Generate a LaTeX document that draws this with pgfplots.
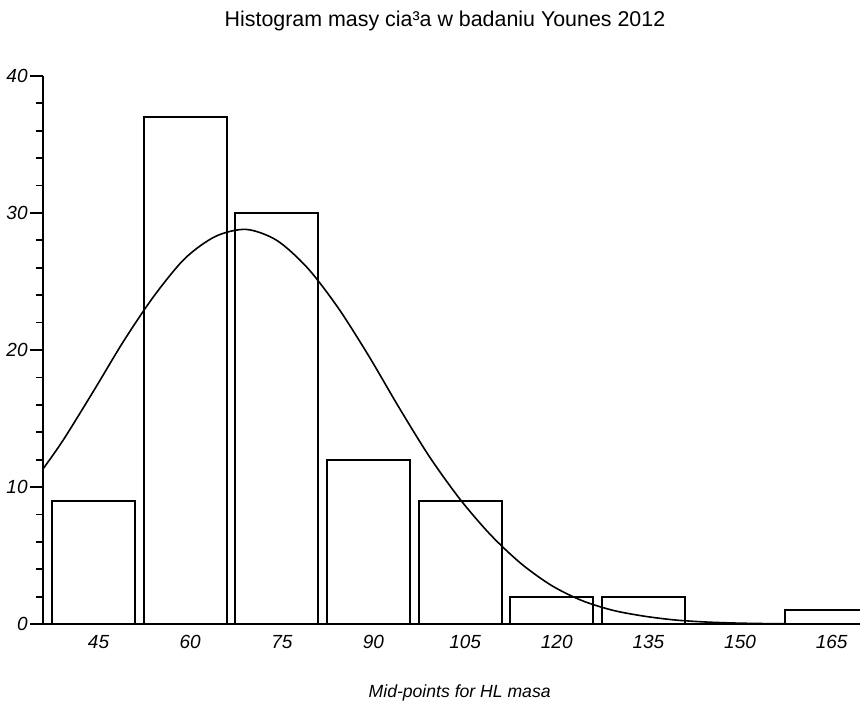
\documentclass[border=0pt]{standalone}
\usepackage{fontspec}
\setmainfont{Liberation Sans}
\usepackage{pgfplots}
\pgfplotsset{compat=1.18}
\begin{document}
\begin{tikzpicture}
\path[use as bounding box] (-21.5pt,-38.5pt) rectangle (408.5pt,312pt);
\begin{axis}[
  at={(0,0)}, anchor=south west,
  width=408.5pt, height=274pt, scale only axis,
  xmin=36.73, xmax=170.45, ymin=0, ymax=40,
  axis x line=bottom, axis y line=left,
  axis line style={-, line width=1pt},
  xtick={45,60,75,90,105,120,135,150,165},
  xtick style={draw=none},
  ytick={0,10,20,30,40}, minor y tick num=4,
  tick align=outside,
  major tick length=6.5pt, minor tick length=3.5pt,
  ytick style={line width=0.9pt, black},
  minor y tick style={line width=0.9pt, black},
  /pgf/number format/assume math mode=true,
  ticklabel style={font=\fontsize{9.5}{10}\selectfont\itshape},
  yticklabel style={inner sep=1pt},
  xticklabel style={inner sep=1pt, xshift=2.5pt, yshift=2pt},
  title={Histogram masy cia³a w badaniu Younes 2012},
  title style={font=\fontsize{10.7}{12}\selectfont, at={(rel axis cs:0.492,1)}, anchor=center, yshift=21.5pt},
  xlabel={Mid-points for HL masa},
  xlabel style={font=\fontsize{8.8}{10}\selectfont\itshape, at={(rel axis cs:0.51,0)}, anchor=center, yshift=-34.5pt},
]
\addplot[ybar, bar width=13.6, fill=none, draw=black, line width=1pt] coordinates {
  (45,9) (60,37) (75,30) (90,12) (105,9) (120,2) (135,2) (150,0) (165,1)
};
\addplot[smooth, no markers, black, line width=0.8pt] coordinates {
  (36.7,11.3) (40,13.4) (45,17.0) (50,20.7) (55,24.0) (60,26.7) (65,28.3)
  (70,28.8) (75,28.0) (80,26.0) (85,23.1) (90,19.6) (95,15.8) (100,12.2)
  (105,9.1) (110,6.5) (115,4.4) (120,2.8) (125,1.7) (130,1.0) (135,0.58)
  (140,0.3) (145,0.15) (150,0.07) (155,0.03) (160,0.01) (170,0)
};
\end{axis}
\end{tikzpicture}
\end{document}
